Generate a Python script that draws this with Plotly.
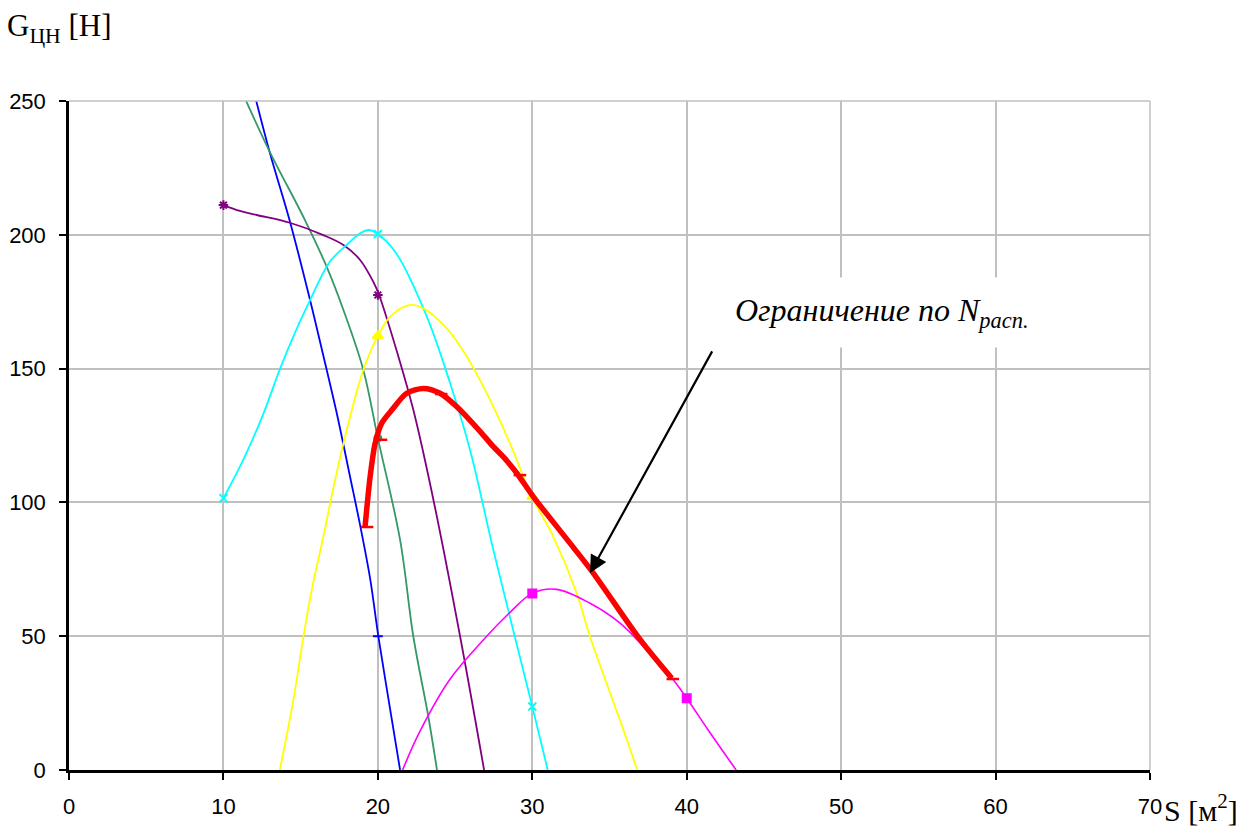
import plotly.graph_objects as go

# ---- data ----
blue_x = [11.6, 12.97, 14.31, 15.61, 16.69, 17.34, 18.2, 18.85, 19.5, 20.03, 20.73, 21.44]
blue_y = [262, 231.4, 204.9, 175.6, 149.5, 133.3, 109.6, 91.5, 71.5, 50, 25, 0]
blue_mx = [20]
blue_my = [50]

green_x = [11.0, 12.97, 15.28, 16.69, 17.77, 19.06, 20.0, 21.44, 22.3, 23.27, 23.83]
green_y = [256, 231.4, 205.5, 188, 171.9, 149.5, 124, 86, 49.8, 19.9, 0]
green_mx = [20]
green_my = [124]

purple_x = [10, 11.07, 12.16, 14.3, 16.47, 17.77, 18.85, 19.7, 20.08, 21.33, 22.3, 23.6, 25.33, 26.88]
purple_y = [211.1, 208.9, 207.4, 204.5, 199.9, 196.2, 190.6, 182.5, 177.5, 154.5, 134.5, 100.9, 49.8, 0]
purple_mx = [10, 20]
purple_my = [211.1, 177.5]

cyan_x = [10, 11.29, 12.58, 13.67, 14.6, 15.61, 16.9, 17.98, 18.9, 19.4, 20, 21.2, 23.17, 24.68, 25.97, 27.48, 30, 31.0]
cyan_y = [101.6, 116, 133, 150, 163, 175.6, 190, 196.2, 200.8, 201.8, 200.3, 193, 169.4, 144.5, 119.6, 82.2, 23.7, 0]
cyan_mx = [10, 20, 30]
cyan_my = [101.6, 200.3, 23.7]

yellow_x = [13.65, 14.53, 15.18, 15.72, 16.47, 17.23, 18.2, 19.06, 20.03, 20.8, 22.08, 22.95, 24.46, 25.76,
            27.05, 28.56, 29.97, 31.26, 32.88, 33.74, 35.9, 36.8]
yellow_y = [0, 26.2, 49.8, 67.3, 87.2, 108.4, 132, 149.5, 162.5, 169.4, 173.8, 172.5, 165, 154.5,
            140.8, 122, 102.1, 88.4, 66, 49.8, 15, 0]
yellow_mx = [20, 30]
yellow_my = [162.2, 102.1]

magenta_x = [21.6, 22.73, 24.68, 26.83, 28.45, 30, 31.58, 33.74, 35.7, 37.4, 39.14, 40, 41.5, 43.2]
magenta_y = [0, 14.5, 34, 48.6, 58.3, 66, 67.5, 62.3, 54.8, 44.8, 33.6, 26.8, 14, 0]
magenta_mx = [30, 40]
magenta_my = [66, 26.8]

red_x = [19.17, 19.5, 19.82, 20.25, 20.9, 21.87, 22.95, 24.03, 25.1, 26.73, 27.48, 28.13, 29.0,
         30.07, 32.45, 33.96, 37.0, 39.03]
red_y = [90.8, 109.6, 122, 129.6, 134.5, 140.8, 142.6, 140.8, 135.8, 125.8, 120.8, 117, 110.9,
         102.1, 84.7, 73.5, 48.6, 34.3]
red_mx = [19.3, 20.2, 24.1, 29.2, 39.1]
red_my = [90.8, 123.4, 140.5, 110.2, 34.0]

x_ticks = [0, 10, 20, 30, 40, 50, 60, 70]
y_ticks = [0, 50, 100, 150, 200, 250]

y_title = "G<sub>ЦН</sub> [Н]"
x_title = "S [м<sup>2</sup>]"
note_text = "Ограничение по N<sub>расп.</sub>"

SERIF = "Liberation Serif"

fig = go.Figure()

series = [
    (blue_x, blue_y, blue_mx, blue_my, "#0000FF", "line-ew", 7, 1.8),
    (green_x, green_y, green_mx, green_my, "#339966", "circle", 7, 1.8),
    (purple_x, purple_y, purple_mx, purple_my, "#800080", "asterisk", 8, 1.8),
    (cyan_x, cyan_y, cyan_mx, cyan_my, "#00FFFF", "x-thin", 8, 1.8),
    (yellow_x, yellow_y, yellow_mx, yellow_my, "#FFFF00", "triangle-up", 9, 1.8),
    (magenta_x, magenta_y, magenta_mx, magenta_my, "#FF00FF", "square", 8, 1.6),
]
for xs, ys, mx, my, col, sym, msz, lw in series:
    fig.add_trace(go.Scatter(x=xs, y=ys, mode="lines",
                             line=dict(color=col, width=lw, shape="spline", smoothing=1.0),
                             hoverinfo="skip", showlegend=False))
    fig.add_trace(go.Scatter(x=mx, y=my, mode="markers",
                             marker=dict(symbol=sym, size=msz, color=col,
                                         line=dict(color=col, width=2)),
                             hoverinfo="skip", showlegend=False, cliponaxis=False))

fig.add_trace(go.Scatter(x=red_x, y=red_y, mode="lines",
                         line=dict(color="#FF0000", width=5.5, shape="spline", smoothing=0.8),
                         hoverinfo="skip", showlegend=False))
fig.add_trace(go.Scatter(x=red_mx, y=red_my, mode="markers",
                         marker=dict(symbol="line-ew", size=9, color="#FF0000",
                                     line=dict(color="#FF0000", width=2.5)),
                         hoverinfo="skip", showlegend=False))

axis_common = dict(showgrid=True, gridcolor="#c0c0c0", gridwidth=1.5, zeroline=False,
                   showline=True, linecolor="black", linewidth=2.5, automargin=False,
                   ticks="outside", ticklen=7, tickwidth=2, tickcolor="black",
                   tickfont=dict(family="Liberation Sans, Arial", size=22, color="black"))

fig.update_xaxes(range=[0, 70], tickvals=x_ticks, ticklabelstandoff=8, **axis_common)
fig.update_yaxes(range=[0, 250], tickvals=y_ticks, ticklabelstandoff=9, **axis_common)

# top and right frame lines (gray like the grid)
fig.add_shape(type="line", xref="paper", yref="paper", x0=0, x1=1, y0=1, y1=1,
              line=dict(color="#c0c0c0", width=1.5))
fig.add_shape(type="line", xref="paper", yref="paper", x0=1, x1=1, y0=0, y1=1,
              line=dict(color="#c0c0c0", width=1.5))

fig.add_annotation(x=52.6, y=170.8, xref="x", yref="y", text=note_text, showarrow=False,
                   font=dict(family=SERIF, size=32, color="black", style="italic"),
                   bgcolor="white", borderpad=14, xanchor="center", yanchor="middle")
fig.add_annotation(x=33.74, y=73.6, xref="x", yref="y", ax=41.7, ay=157, axref="x", ayref="y",
                   text="", showarrow=True, arrowhead=2, arrowsize=1.6, arrowwidth=2.2,
                   arrowcolor="black")

fig.add_annotation(x=-0.059, y=1.109, xref="paper", yref="paper", text=y_title, showarrow=False,
                   xanchor="left", yanchor="middle",
                   font=dict(family=SERIF, size=31, color="black"))
fig.add_annotation(x=1.011, y=-0.057, xref="paper", yref="paper", text=x_title, showarrow=False,
                   xanchor="left", yanchor="middle",
                   font=dict(family=SERIF, size=30, color="black"))

# page has an 8px body margin: shrink figure so the plot area lands where the reference has it
fig.update_layout(width=1236, height=824, margin=dict(l=61, r=94, t=93, b=62, autoexpand=False),
                  plot_bgcolor="white", paper_bgcolor="white", showlegend=False)

fig.write_html("out.html")
